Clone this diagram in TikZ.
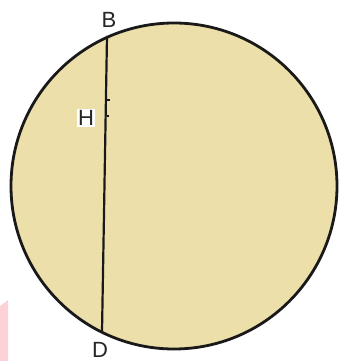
\documentclass[tikz,border=0pt]{standalone}
\usepackage{fontspec}
\setmainfont{Liberation Sans}
\definecolor{disc}{RGB}{237,223,170}
\definecolor{wm}{RGB}{252,210,215}
\begin{document}
\begin{tikzpicture}[x=1pt,y=-1pt,
  lbl/.style={font=\fontsize{22}{22}\selectfont, text=black!85, inner sep=0pt},
  ring/.style={draw=black!90, line width=2.8pt, fill=disc},
  chord/.style={draw=black!90, line width=2.2pt},
  tick/.style={draw=black!90, line width=2.2pt}]
\useasboundingbox (0,0) rectangle (339,361);
\fill[wm] (0,306) -- (8,300) -- (8,361) -- (0,361) -- cycle;
\node[ring, circle, minimum size=326pt, inner sep=0pt] (O) at (174,186) {};
\coordinate (B) at (107,36);
\coordinate (D) at (102,332);
\draw[chord] (B) -- (D);
\draw[tick] (107.2,100) -- (110,100);
\draw[tick] (106.6,116) -- (109.4,116);
\draw[white, line width=1.4pt] (318.5,100) -- (322,103.5);
\node[lbl] (lB) at (109,20) {B};
\node[lbl, fill=white, inner sep=1pt] (lH) at (86,118) {H};
\node[lbl] (lD) at (100,349.5) {D};
\end{tikzpicture}
\end{document}
